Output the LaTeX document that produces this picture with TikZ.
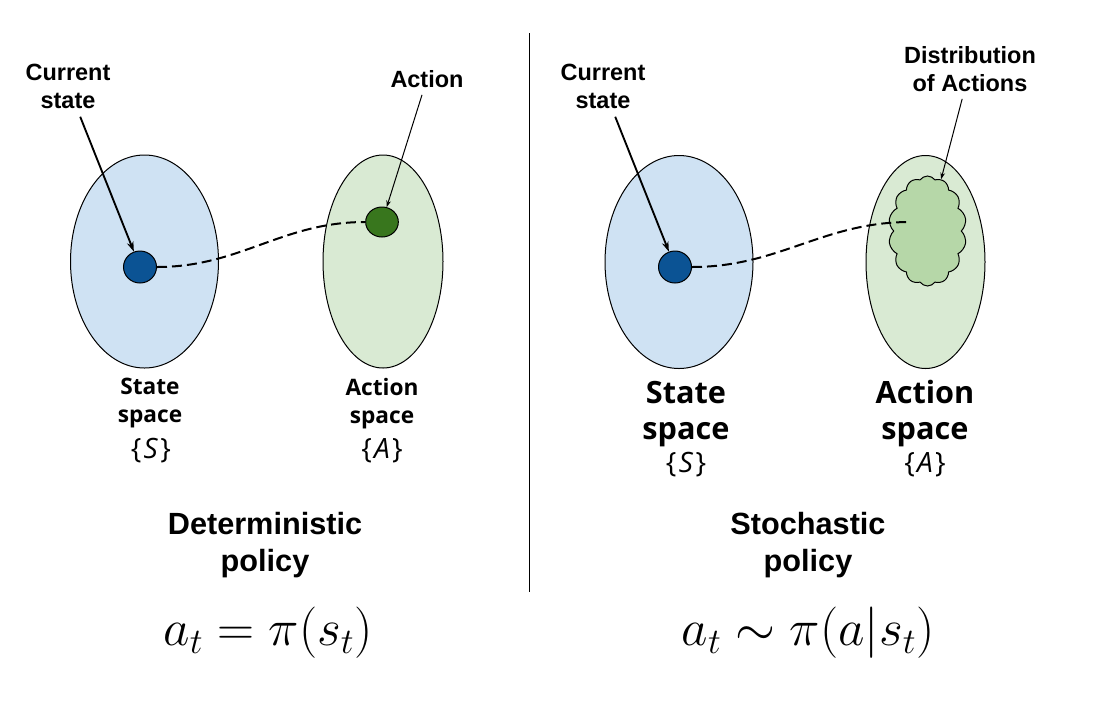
\documentclass[tikz,border=0pt]{standalone}
\usepackage{fix-cm}
\usepackage[no-math]{fontspec}
\setmainfont{Liberation Sans}
\newfontfamily\opensans{Open Sans}
\usepackage{tikz}
\usetikzlibrary{arrows.meta, shapes.geometric, shapes.symbols}
\usepackage{xcolor}
\definecolor{stfill}{HTML}{CFE2F3}
\definecolor{acfill}{HTML}{D9EAD3}
\definecolor{cloudfill}{HTML}{B6D7A8}
\definecolor{stdot}{HTML}{0B5394}
\definecolor{acdot}{HTML}{38761D}

\begin{document}
\begin{tikzpicture}[x=0.75pt, y=-0.75pt,
		lbl/.style={font=\bfseries\fontsize{17.6}{21}\selectfont, align=center},
		spc/.style={font=\opensans\bfseries\fontsize{17}{21}\selectfont, align=center},
		bigspc/.style={font=\opensans\bfseries\fontsize{23}{27}\selectfont, align=center},
		setlbl/.style={font=\opensans\fontsize{21}{25}\selectfont},
		pol/.style={font=\bfseries\fontsize{23}{27.75}\selectfont, align=center},
		eq/.style={font=\fontsize{38.5}{44}\selectfont},
		blob/.style={ellipse, draw, line width=0.75pt, minimum height=159.75pt, inner sep=0pt},
		dot/.style={ellipse, draw, line width=0.75pt, inner sep=0pt},
		arr/.style={-{Stealth[length=7.5pt, width=5pt]}, line width=1.4pt, shorten <=3pt},
		thinarr/.style={-{Stealth[length=5pt, width=3.5pt]}, line width=0.75pt, shorten <=2pt},
		link/.style={dash pattern=on 7.5pt off 3.75pt, line width=1.5pt}]
		\useasboundingbox (0,0) rectangle (1106,708);
%		\draw[red, thin] (0,0) rectangle (1106,708);
		% deterministic side
		\node[blob, fill=stfill, minimum width=111pt] (ss1) at (144.5,261.5) {};
		\node[blob, fill=acfill, minimum width=90pt] (as1) at (383,261.5) {};
		\node[dot, fill=stdot, minimum width=24.75pt, minimum height=24pt] (s1) at (140,267) {};
		\node[dot, fill=acdot, minimum width=24.5pt, minimum height=22.5pt] (a1) at (382,222) {};
		\draw[link] (s1.east) to[out=0, in=180] (a1.west);
		\node[lbl] (cur1) at (68,86) {Current\\state};
		\node[lbl] (act1) at (427,79) {Action};
		\draw[arr] (cur1) -- (s1);
		\draw[thinarr] (act1) -- (a1);
		\node[spc] (ssl1) at (150,403.5) {State\\space};
		\node[setlbl] (sset1) at (151,450.5) {\{\kern0.08em\textit{S}\kern0.08em\}};
		\node[spc] (asl1) at (382,403.5) {Action\\space};
		\node[setlbl] (aset1) at (382,450.5) {\{\kern0.08em\textit{A}\kern0.08em\}};
		\node[pol] (pol1) at (265,545.5) {Deterministic\\policy};
		\node[eq] (eq1) at (268,632.5) {$a_t = \pi(s_t)$};
		% divider
		\coordinate (dtop) at (529,33);
		\coordinate (dbot) at (529,592);
		\draw[line width=0.75pt] (dtop) -- (dbot);
		% stochastic side
		\node[blob, fill=stfill, minimum width=111pt] (ss2) at (679,262) {};
		\node[blob, fill=acfill, minimum width=89.25pt] (as2) at (925.5,262) {};
		\node[dot, fill=stdot, minimum width=24.75pt, minimum height=24pt] (s2) at (675,267) {};
		\node[cloud, draw, fill=cloudfill, line width=0.75pt, cloud puffs=14, cloud puff arc=110, aspect=0.7,
			minimum width=58.5pt, minimum height=82.5pt, inner sep=0pt] (dist) at (927.5,231) {};
		\coordinate (d2) at (910,222);
		\draw[link] (s2.east) to[out=0, in=180] (d2);
		\node[lbl] (cur2) at (603,86) {Current\\state};
		\node[lbl] (distl) at (970,69) {Distribution\\of Actions};
		\draw[arr] (cur2) -- (s2);
		\draw[thinarr] (distl) -- (dist);
		\node[bigspc] (ssl2) at (686,414) {State\\space};
		\node[setlbl] (sset2) at (686,465) {\{\kern0.08em\textit{S}\kern0.08em\}};
		\node[bigspc] (asl2) at (925,414) {Action\\space};
		\node[setlbl] (aset2) at (925,465) {\{\kern0.08em\textit{A}\kern0.08em\}};
		\node[pol] (pol2) at (808,545.5) {Stochastic\\policy};
		\node[eq] (eq2) at (808,632.5) {$a_t \sim \pi(a|s_t)$};
	\end{tikzpicture}
\end{document}
